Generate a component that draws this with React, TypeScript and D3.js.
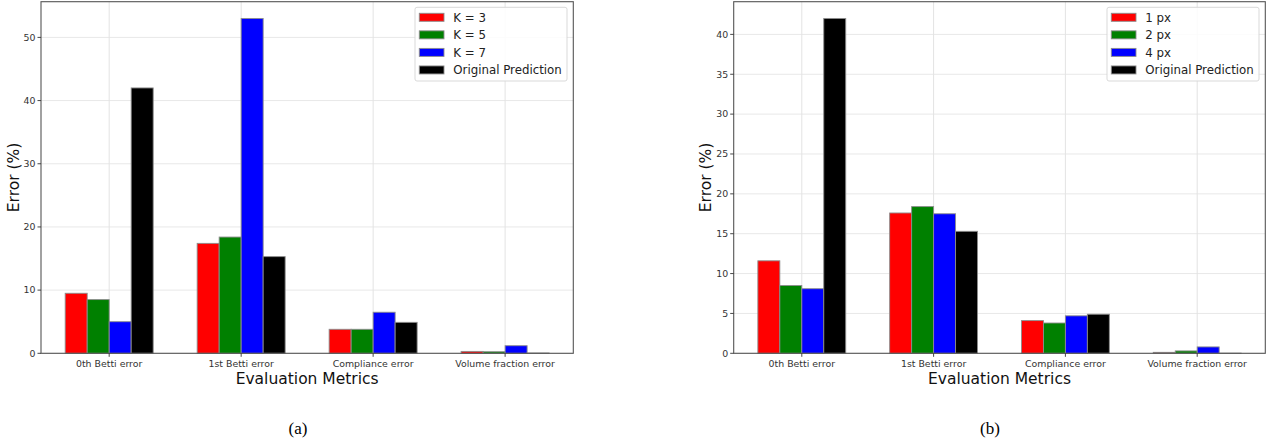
import * as d3 from "d3";

const categories = ["0th Betti error", "1st Betti error", "Compliance error", "Volume fraction error"];
const colors = ["#ff0000", "#008000", "#0000ff", "#000000"];

const kLabels = ["K = 3", "K = 5", "K = 7", "Original Prediction"];
const k3 = [9.5, 17.4, 3.8, 0.3];
const k5 = [8.5, 18.4, 3.8, 0.25];
const k7 = [5.0, 53.0, 6.5, 1.2];
const origA = [42.0, 15.3, 4.9, 0.05];
const ticksA = [0, 10, 20, 30, 40, 50];

const pxLabels = ["1 px", "2 px", "4 px", "Original Prediction"];
const px1 = [11.6, 17.6, 4.1, 0.12];
const px2 = [8.5, 18.4, 3.8, 0.3];
const px4 = [8.1, 17.5, 4.7, 0.8];
const origB = [42.0, 15.3, 4.9, 0.02];
const ticksB = [0, 5, 10, 15, 20, 25, 30, 35, 40];

const font = "DejaVu Sans, sans-serif";
const barW = 1 / 6;

interface PanelProps {
  series: number[][];
  labels: string[];
  ticks: number[];
  left: number;
  right: number;
  legendX: number;
  yLabelX: number;
  caption: string;
  captionX: number;
}

function Panel({ series, labels, ticks, left, right, legendX, yLabelX, caption, captionX }: PanelProps) {
  const top = 1.7;
  const bottom = 353.3;
  const n = categories.length;
  const span = n - 1 + 4 * barW;
  const pad = span * 0.05;
  const x = d3
    .scaleLinear()
    .domain([-2 * barW - pad, n - 1 + 2 * barW + pad])
    .range([left, right]);
  const maxV = d3.max(series.flat()) ?? 1;
  const y = d3.scaleLinear().domain([0, maxV * 1.05]).range([bottom, top]);
  const legendW = 152;

  return (
    <g>
      {/* grid */}
      {ticks.map((t) => (
        <line key={"gy" + t} x1={left} x2={right} y1={y(t)} y2={y(t)} stroke="#e8e8e8" strokeWidth={1} />
      ))}
      {categories.map((c, i) => (
        <line key={"gx" + c} x1={x(i)} x2={x(i)} y1={top} y2={bottom} stroke="#e3e3e3" strokeWidth={1} />
      ))}
      {/* bars */}
      {series.map((s, si) =>
        s.map((v, i) => (
          <rect
            key={si + "-" + i}
            x={x(i + (si - 2) * barW)}
            width={x(barW) - x(0)}
            y={y(v)}
            height={bottom - y(v)}
            fill={colors[si]}
            stroke="#8c8c8c"
            strokeWidth={0.9}
          />
        ))
      )}
      {/* frame */}
      <rect x={left} y={top} width={right - left} height={bottom - top} fill="none" stroke="#555" strokeWidth={1.1} />
      {/* y ticks */}
      {ticks.map((t) => (
        <g key={"ty" + t}>
          <line x1={left - 3.5} x2={left} y1={y(t)} y2={y(t)} stroke="#333" strokeWidth={0.9} />
          <text x={left - 5.5} y={y(t)} dy="0.35em" textAnchor="end" fontSize={9.4} fill="#333" fontFamily={font}>
            {t}
          </text>
        </g>
      ))}
      {/* x ticks */}
      {categories.map((c, i) => (
        <g key={"tx" + c}>
          <line x1={x(i)} x2={x(i)} y1={bottom} y2={bottom + 3.5} stroke="#333" strokeWidth={0.9} />
          <text x={x(i)} y={bottom + 13.5} textAnchor="middle" fontSize={9.4} fill="#333" fontFamily={font}>
            {c}
          </text>
        </g>
      ))}
      <text x={(left + right) / 2} y={383.5} textAnchor="middle" fontSize={15.5} fill="#111" fontFamily={font}>
        Evaluation Metrics
      </text>
      <text
        transform={`translate(${yLabelX},${(top + bottom) / 2}) rotate(-90)`}
        dy="0.35em"
        textAnchor="middle"
        fontSize={15.5}
        fill="#111"
        fontFamily={font}
      >
        Error (%)
      </text>
      {/* legend */}
      <rect x={legendX} y={7.3} width={legendW} height={73.7} rx={2} fill="#fff" fillOpacity={0.85} stroke="#d5d5d5" strokeWidth={0.9} />
      {labels.map((l, i) => (
        <g key={"lg" + l} transform={`translate(${legendX + 4.3},${17.3 + i * 17.55})`}>
          <rect x={0} y={-4} width={24.7} height={8} fill={colors[i]} stroke="#8c8c8c" strokeWidth={0.9} />
          <text x={34} y={0} dy="0.36em" fontSize={11.8} fill="#222" fontFamily={font}>
            {l}
          </text>
        </g>
      ))}
      <text x={captionX} y={434} textAnchor="middle" fontSize={17} fill="#000" fontFamily="Liberation Serif, Times New Roman, serif">
        {caption}
      </text>
    </g>
  );
}

export default function App() {
  return (
    <svg width={1269} height={444} style={{ position: "absolute", left: 0, top: 0, background: "#fff" }}>
      <rect width={1269} height={444} fill="#fff" />
      <Panel
        series={[k3, k5, k7, origA]}
        labels={kLabels}
        ticks={ticksA}
        left={41}
        right={573.3}
        legendX={415}
        yLabelX={14}
        caption="(a)"
        captionX={298}
      />
      <Panel
        series={[px1, px2, px4, origB]}
        labels={pxLabels}
        ticks={ticksB}
        left={733.7}
        right={1265.3}
        legendX={1107}
        yLabelX={705.7}
        caption="(b)"
        captionX={990}
      />
    </svg>
  );
}
